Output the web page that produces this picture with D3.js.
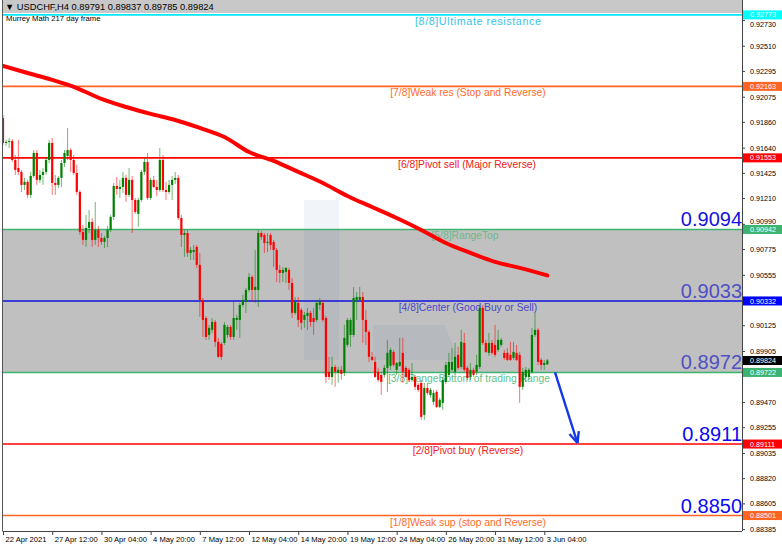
<!DOCTYPE html>
<html><head><meta charset="utf-8">
<script src="https://cdn.jsdelivr.net/npm/d3@7"></script>
<style>
html,body{margin:0;padding:0;background:#fff;}
svg{display:block;font-family:"Liberation Sans",Arial,sans-serif;}
</style></head><body>
<svg id="c" width="782" height="547"></svg>
<script>
// ---------------- DATA ----------------
const symbolTitle = "USDCHF,H4";
const lastOHLC = [0.89791, 0.89837, 0.89785, 0.89824];
const indicatorTitle = "Murrey Math 217 day frame";

const opens = [0.91893,0.91680,0.91689,0.91697,0.91535,0.91467,0.91433,0.91322,0.91348,0.91237,
0.91399,0.91595,0.91365,0.91407,0.91433,0.91535,0.91680,0.91339,0.91322,0.91382,
0.91509,0.91569,0.91620,0.91535,0.91424,0.91262,0.90921,0.90853,0.90955,0.91006,
0.90853,0.90938,0.90870,0.90836,0.90870,0.90938,0.91049,0.91313,0.91288,0.91305,
0.91382,0.91237,0.91365,0.91194,0.91075,0.91194,0.91433,0.91518,0.91211,0.91365,
0.91305,0.91279,0.91535,0.91279,0.91262,0.91322,0.91365,0.91382,0.91040,0.90895,
0.90912,0.90742,0.90750,0.90793,0.90640,0.90341,0.90187,0.90042,0.90085,0.90153,
0.89983,0.89966,0.89974,0.90042,0.90111,0.90025,0.90170,0.90170,0.90298,0.90324,
0.90426,0.90537,0.90426,0.90426,0.90912,0.90895,0.90827,0.90895,0.90836,0.90767,
0.90597,0.90571,0.90580,0.90597,0.90486,0.90230,0.90315,0.90256,0.90170,0.90204,
0.90230,0.90187,0.90170,0.90298,0.90315,0.90187,0.89727,0.89684,0.89769,0.89718,
0.89744,0.89718,0.89957,0.90042,0.90042,0.90341,0.90341,0.90366,0.90170,0.90068,
0.89855,0.89812,0.89727,0.89701,0.89701,0.89761,0.89778,0.89897,0.89744,0.89778,
0.89889,0.89761,0.89744,0.89658,0.89684,0.89616,0.89633,0.89360,0.89590,0.89530,
0.89471,0.89556,0.89428,0.89462,0.89641,0.89701,0.89744,0.89727,0.89872,0.89769,
0.89974,0.89761,0.89684,0.89744,0.89727,0.89769,0.90273,0.89974,0.89889,0.89974,
0.89957,0.89914,0.89957,0.89889,0.89889,0.89872,0.89846,0.89889,0.89872,0.89599,
0.89684,0.89684,0.89727,0.90042,0.90085,0.89829,0.89786,0.89791];
const highs = [0.91919,0.91706,0.91723,0.91714,0.91578,0.91706,0.91450,0.91382,0.91365,0.91433,
0.91620,0.91620,0.91450,0.91467,0.91552,0.91706,0.91723,0.91407,0.91399,0.91535,
0.91620,0.91808,0.91637,0.91578,0.91493,0.91279,0.90981,0.91066,0.91109,0.91040,
0.91177,0.90972,0.90912,0.90887,0.90972,0.91066,0.91339,0.91390,0.91365,0.91433,
0.91407,0.91467,0.91399,0.91211,0.91211,0.91450,0.91552,0.91595,0.91382,0.91399,
0.91365,0.91637,0.91578,0.91348,0.91365,0.91399,0.91433,0.91407,0.91066,0.90938,
0.90938,0.90793,0.90810,0.90810,0.90742,0.90358,0.90204,0.90128,0.90187,0.90170,
0.90017,0.89983,0.90153,0.90128,0.90128,0.90324,0.90213,0.90315,0.90384,0.90443,
0.90571,0.90554,0.90767,0.90938,0.90929,0.90912,0.90912,0.90912,0.90853,0.90784,
0.90640,0.90622,0.90622,0.90614,0.90528,0.90366,0.90366,0.90273,0.90239,0.90273,
0.90247,0.90273,0.90341,0.90358,0.90341,0.90204,0.89855,0.89855,0.89786,0.89769,
0.89778,0.90128,0.90187,0.90187,0.90452,0.90409,0.90452,0.90409,0.90256,0.90085,
0.89897,0.89855,0.89761,0.89727,0.89786,0.90000,0.89931,0.89914,0.89812,0.90017,
0.90017,0.89778,0.89761,0.89803,0.89701,0.89633,0.89658,0.89633,0.89633,0.89590,
0.89573,0.89573,0.89505,0.89675,0.89812,0.89889,0.89931,0.89974,0.89940,0.90085,
0.90059,0.89778,0.89803,0.89761,0.89872,0.90298,0.90298,0.90000,0.90059,0.90000,
0.90128,0.90085,0.90017,0.89914,0.89931,0.89983,0.89983,0.89957,0.89897,0.89761,
0.89769,0.89761,0.90102,0.90230,0.90102,0.89846,0.89829,0.89837];
const lows = [0.91663,0.91655,0.91637,0.91518,0.91407,0.91407,0.91262,0.91279,0.91211,0.91211,
0.91382,0.91322,0.91339,0.91322,0.91407,0.91509,0.91237,0.91237,0.91296,0.91305,
0.91475,0.91535,0.91433,0.91407,0.91237,0.90895,0.90810,0.90793,0.90912,0.90793,
0.90810,0.90793,0.90810,0.90784,0.90793,0.90921,0.91023,0.91237,0.91211,0.91254,
0.91177,0.91220,0.90912,0.91075,0.90964,0.91177,0.91407,0.91194,0.91194,0.91296,
0.91228,0.91262,0.91262,0.91194,0.91245,0.91194,0.91330,0.91023,0.90793,0.90708,
0.90708,0.90682,0.90682,0.90614,0.90196,0.90025,0.90000,0.90000,0.90059,0.89940,
0.89846,0.89829,0.89957,0.90017,0.90000,0.90000,0.90085,0.90017,0.90281,0.90230,
0.90409,0.90324,0.90315,0.90281,0.90853,0.90742,0.90750,0.90767,0.90622,0.90494,
0.90486,0.90494,0.90486,0.90426,0.90187,0.90213,0.90111,0.90085,0.90102,0.90085,
0.90111,0.90042,0.90153,0.90256,0.90153,0.89633,0.89658,0.89616,0.89599,0.89633,
0.89658,0.89692,0.89940,0.89940,0.90025,0.90170,0.90324,0.89974,0.89957,0.89812,
0.89820,0.89675,0.89641,0.89530,0.89675,0.89556,0.89744,0.89769,0.89701,0.89769,
0.89633,0.89675,0.89641,0.89641,0.89573,0.89556,0.89317,0.89317,0.89530,0.89505,
0.89445,0.89419,0.89419,0.89402,0.89624,0.89684,0.89727,0.89701,0.89744,0.89752,
0.89727,0.89658,0.89658,0.89684,0.89701,0.89752,0.89957,0.89889,0.89863,0.89872,
0.89855,0.89897,0.89940,0.89829,0.89820,0.89820,0.89829,0.89820,0.89462,0.89573,
0.89641,0.89658,0.89710,0.90025,0.89786,0.89744,0.89744,0.89785];
const closes = [0.91680,0.91689,0.91697,0.91535,0.91450,0.91433,0.91322,0.91348,0.91237,0.91399,
0.91595,0.91365,0.91407,0.91433,0.91535,0.91680,0.91339,0.91322,0.91382,0.91509,
0.91595,0.91620,0.91535,0.91424,0.91262,0.90921,0.90853,0.90955,0.91006,0.90853,
0.90938,0.90870,0.90836,0.90870,0.90938,0.91049,0.91313,0.91288,0.91305,0.91382,
0.91237,0.91365,0.91194,0.91092,0.91194,0.91433,0.91518,0.91211,0.91365,0.91305,
0.91279,0.91535,0.91279,0.91262,0.91322,0.91365,0.91382,0.91040,0.90895,0.90912,
0.90742,0.90767,0.90767,0.90640,0.90341,0.90170,0.90025,0.90102,0.90153,0.89983,
0.89855,0.89855,0.90128,0.90111,0.90025,0.90187,0.90187,0.90298,0.90341,0.90426,
0.90537,0.90426,0.90452,0.90912,0.90878,0.90827,0.90836,0.90810,0.90767,0.90597,
0.90571,0.90597,0.90614,0.90486,0.90230,0.90324,0.90170,0.90145,0.90213,0.90230,
0.90153,0.90153,0.90315,0.90324,0.90170,0.89684,0.89684,0.89769,0.89727,0.89744,
0.89710,0.90017,0.90170,0.90170,0.90358,0.90366,0.90366,0.90170,0.90068,0.89855,
0.89829,0.89684,0.89658,0.89641,0.89761,0.89889,0.89914,0.89786,0.89803,0.89812,
0.89727,0.89684,0.89658,0.89684,0.89599,0.89573,0.89343,0.89590,0.89547,0.89573,
0.89547,0.89428,0.89488,0.89658,0.89786,0.89812,0.89812,0.89855,0.89761,0.89983,
0.89744,0.89675,0.89744,0.89701,0.89786,0.90273,0.89974,0.89897,0.89974,0.89889,
0.89872,0.90000,0.90000,0.89846,0.89829,0.89829,0.89897,0.89829,0.89599,0.89727,
0.89744,0.89744,0.90042,0.90085,0.89812,0.89786,0.89803,0.89824];

const maIndex  = [0,8,16,24,32,40,48,56,64,72,80,88,96,104,112,120,128,136,144,152,160,168,177];
const maValues = [0.92337,0.92277,0.92218,0.92149,0.92056,0.91987,0.91928,0.91876,0.91808,0.91731,
0.91603,0.91527,0.91433,0.91339,0.91228,0.91134,0.91040,0.90938,0.90827,0.90742,0.90665,0.90614,0.90550];

const timeLabelIndex = [0,16,32,48,64,80,96,112,128,144,160,176];
const timeLabels = ["22 Apr 2021","27 Apr 12:00","30 Apr 04:00","4 May 20:00","7 May 12:00","12 May 04:00",
"14 May 20:00","19 May 12:00","24 May 04:00","26 May 20:00","31 May 12:00","3 Jun 04:00"];

// visible price-scale ticks (those fully hidden behind level boxes are left out)
const priceTicks = [0.92730,0.92510,0.92295,0.92075,0.91860,0.91640,0.91425,0.91210,0.90990,0.90775,
0.90555,0.90125,0.89905,0.89470,0.89255,0.89035,0.88820,0.88605,0.88385];

const levelValues = [0.92773,0.92163,0.91553,0.90942,0.90332,0.89722,0.89111,0.88501];
const levelNames = ["[8/8]Ultimate resistance","[7/8]Weak res (Stop and Reverse)","[6/8]Pivot sell (Major Reverse)",
"[5/8]RangeTop","[4/8]Center (Good Buy or Sell)","[3/8]RangeBottom of trading Range","[2/8]Pivot buy (Reverse)",
"[1/8]Weak sup (stop and Reverse)"];

const bigLabels = ["0.9094","0.9033","0.8972","0.8911","0.8850"];
const bigLabelLevels = [0.90942,0.90332,0.89722,0.89111,0.88501];

const arrowIndex = [179.5, 186.8];
const arrowPrice = [0.89722, 0.89120];

// ---------------- STYLES ----------------
const levelColors = ["#00E8F8","#FF6420","#FF0000","#3CB371","#1010E0","#3CB371","#FF0000","#FF6420"];
const levelTextColors = ["#38C4EC","#FF6A2A","#F01818","#6CB88A","#4848C8","#62C088","#F01818","#FF6A2A"];
const levelTextCenter = [478,468,467,465,468,469,468,468];
const bigLabelColors = ["#1414DC","#5050C4","#5050C4","#0A0AF0","#0A0AF0"];
const boxColors = ["#00FFFF","#FF6420","#FF0000","#3CB371","#0000FF","#3CB371","#FF0000","#FF6420"];

const W = 782, H = 547;
const plotL = 3, plotR = 742, plotB = 531;
const svg = d3.select("#c");

const x = d3.scaleLinear().domain([0, 240.3]).range([3, 742]);
const y = d3.scaleLinear().domain([0.92900, 0.88352]).range([0, 533]);

svg.append("rect").attr("width", W).attr("height", H).attr("fill", "#fff");

svg.append("clipPath").attr("id","pc").append("rect")
  .attr("x", plotL).attr("y", 0).attr("width", plotR-plotL).attr("height", plotB);
const g = svg.append("g").attr("clip-path","url(#pc)");

// header strip
g.append("rect").attr("x", plotL).attr("y", 0).attr("width", plotR-plotL).attr("height", 13).attr("fill", "#C8C8C8");

// range band (5/8 to 3/8)
g.append("rect").attr("x", plotL).attr("width", plotR-plotL)
  .attr("y", y(levelValues[3])).attr("height", y(levelValues[5]) - y(levelValues[3]))
  .attr("fill", "#C0C0C0");

// watermark (faint)
const wm = g.append("g").attr("fill", "rgb(60,100,170)").attr("fill-opacity", 0.07);
wm.append("rect").attr("x", 304).attr("y", 200).attr("width", 35).attr("height", 160);
wm.append("path").attr("d", "M373,325 L445,325 L458,360 L373,360 Z");

// level lines and names
levelValues.forEach((v,i)=>{
  g.append("line").attr("x1", plotL).attr("x2", plotR).attr("y1", y(v)).attr("y2", y(v))
    .attr("stroke", levelColors[i]).attr("stroke-width", 1.6);
  const t = g.append("text").attr("x", levelTextCenter[i]).attr("y", y(v)+10).attr("text-anchor","middle")
    .attr("font-size", 10.3).attr("fill", levelTextColors[i]).text(levelNames[i]);
  if (i === 0) t.attr("font-size", 10.8).attr("textLength", 126).attr("lengthAdjust", "spacing");
});

// big labels (sit just above their level)
bigLabels.forEach((t,i)=>{
  g.append("text").attr("x", 742).attr("y", y(bigLabelLevels[i]) - 3)
    .attr("text-anchor","end").attr("font-size", 20).attr("fill", bigLabelColors[i]).text(t);
});

// moving average
const maLine = d3.line().x((d,i)=>x(maIndex[i])).y(d=>y(d)).curve(d3.curveMonotoneX);
g.append("path").datum(maValues).attr("d", maLine).attr("fill","none")
  .attr("stroke","#FF0000").attr("stroke-width", 4).attr("stroke-linecap","round");

// candles
const cg = g.append("g");
d3.range(closes.length).forEach(i=>{
  const up = closes[i] >= opens[i];
  const col = up ? "#008000" : "#FF0000";
  const cx = x(i);
  cg.append("line").attr("x1", cx).attr("x2", cx).attr("y1", y(highs[i])).attr("y2", y(lows[i]))
    .attr("stroke", col).attr("stroke-width", 1).attr("stroke-opacity", 0.55);
  const top = y(Math.max(opens[i], closes[i])), bot = y(Math.min(opens[i], closes[i]));
  cg.append("rect").attr("x", cx-1.1).attr("width", 2.2).attr("y", top).attr("height", Math.max(1, bot-top))
    .attr("fill", col);
});

// arrow
const ax1 = x(arrowIndex[0]), ay1 = y(arrowPrice[0]), ax2 = x(arrowIndex[1]), ay2 = y(arrowPrice[1]);
g.append("line").attr("x1", ax1).attr("y1", ay1).attr("x2", ax2).attr("y2", ay2)
  .attr("stroke","#1438E8").attr("stroke-width", 2.4);
const ang = Math.atan2(ay2-ay1, ax2-ax1);
[0.42,-0.42].forEach(d=>{
  g.append("line").attr("x1", ax2).attr("y1", ay2)
    .attr("x2", ax2 - 12*Math.cos(ang+d)).attr("y2", ay2 - 12*Math.sin(ang+d))
    .attr("stroke","#1438E8").attr("stroke-width", 2.4);
});

// header text
svg.append("text").attr("x", 5).attr("y", 9.5).attr("font-size", 9.3).attr("fill","#000")
  .text("\u25BC " + symbolTitle + "  " + lastOHLC.map(d=>d.toFixed(5)).join(" "));
svg.append("text").attr("x", 6).attr("y", 21).attr("font-size", 7.7).attr("fill","#000").text(indicatorTitle);

// frame
svg.append("line").attr("x1", 2.5).attr("x2", 2.5).attr("y1", 0).attr("y2", plotB).attr("stroke","#555");

// right axis
const ra = svg.append("g").attr("transform", `translate(${plotR},0)`)
  .call(d3.axisRight(y).tickValues(priceTicks).tickSize(3).tickFormat(d3.format(".5f")));
ra.select(".domain").attr("d", `M0.5,0V${plotB}`).attr("stroke","#444");
ra.selectAll(".tick line").attr("stroke","#444");
ra.selectAll(".tick text").attr("x", 8).attr("font-size", 7.2).attr("font-family","Liberation Sans, Arial").attr("fill","#000")
  .attr("dy", d => d === 0.92730 ? "6.2px" : d === 0.90990 ? "0px" : "2.5px");

// bottom axis
const ba = svg.append("g").attr("transform", `translate(0,${plotB})`)
  .call(d3.axisBottom(x).tickValues(timeLabelIndex).tickSize(4).tickFormat((d,i)=>timeLabels[i]));
ba.select(".domain").attr("d", `M2.5,0.5H${plotR}`).attr("stroke","#444");
ba.selectAll(".tick line").attr("stroke","#444");
ba.selectAll(".tick text").attr("text-anchor","start").attr("x", 2).attr("dy", 0).attr("y", 11)
  .attr("font-size", 7.6).attr("font-family","Liberation Sans, Arial").attr("fill","#000");

// level price boxes
const boxH = 9;
levelValues.forEach((v,i)=>{
  const yy = y(v);
  svg.append("rect").attr("x", plotR+1).attr("y", yy-boxH/2).attr("width", 40).attr("height", boxH).attr("fill", boxColors[i]);
  svg.append("text").attr("x", plotR+8).attr("y", yy+2.6).attr("font-size", 7.2).attr("fill","#fff").text(v.toFixed(5));
});
{
  const v = lastOHLC[3], yy = y(v);
  svg.append("rect").attr("x", plotR+1).attr("y", yy-boxH/2).attr("width", 40).attr("height", boxH).attr("fill", "#000");
  svg.append("text").attr("x", plotR+8).attr("y", yy+2.6).attr("font-size", 7.2).attr("fill","#fff").text(v.toFixed(5));
}
</script>
</body></html>
